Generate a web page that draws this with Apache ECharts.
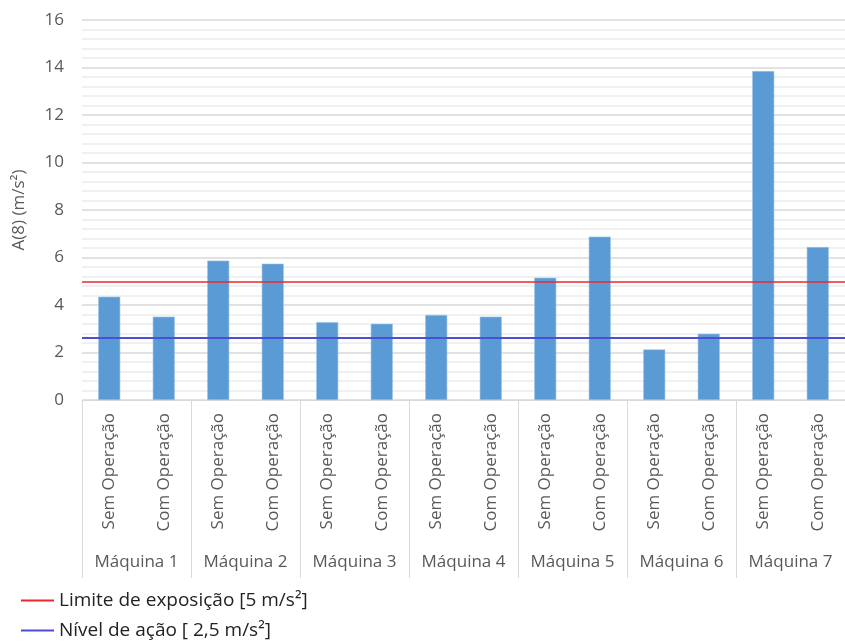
<!DOCTYPE html>
<html>
<head>
<meta charset="utf-8">
<script src="https://cdn.jsdelivr.net/npm/echarts@6/dist/echarts.min.js"></script>
<style>
  html, body { margin: 0; padding: 0; background: #fff; }
  #chart { width: 845px; height: 643px; }
</style>
</head>
<body>
<div id="chart"></div>
<script>
; (function () {
  const machines = ['Máquina 1', 'Máquina 2', 'Máquina 3', 'Máquina 4', 'Máquina 5', 'Máquina 6', 'Máquina 7']
  const modes = ['Sem Operação', 'Com Operação']
  // A(8) per machine, [Sem, Com]
  const semValues = [4.35, 5.87, 3.28, 3.58, 5.15, 2.13, 13.85]
  const comValues = [3.51, 5.74, 3.21, 3.51, 6.88, 2.79, 6.44]
  const limitName = 'Limite de exposição [5 m/s²]'
  const actionName = 'Nível de ação [ 2,5 m/s²]'
  const limitValue = [5]
  const actionValue = [2.62]
  const yTicks = [0, 16, 2]

  const categories = []
  const values = []
  machines.forEach(function (m, i) {
    categories.push(modes[0]); values.push(semValues[i])
    categories.push(modes[1]); values.push(comValues[i])
  })

  const font = 'Open Sans, Noto Sans, sans-serif'
  const legendBase = {
    left: 21,
    itemWidth: 33,
    itemHeight: 2,
    icon: 'rect',
    padding: 0,
    textStyle: { color: '#222', fontSize: 19, fontFamily: font }
  }
  const myChart = echarts.init(document.getElementById('chart'))
  const option = {
    animation: false,
    grid: { left: 82, top: 20, width: 773, height: 380, containLabel: false },
    legend: [
      Object.assign({ top: 591, data: [limitName] }, legendBase),
      Object.assign({ top: 621, data: [actionName] }, legendBase)
    ],
    xAxis: [
      {
        type: 'category',
        data: categories,
        axisLine: { lineStyle: { color: '#d9d9d9' } },
        axisTick: { show: false },
        axisLabel: { rotate: 90, margin: 13, color: '#595959', fontSize: 17, fontFamily: font, interval: 0 }
      },
      {
        type: 'category',
        data: machines,
        position: 'bottom',
        axisLine: { show: false },
        axisTick: { show: true, length: 178, lineStyle: { color: '#d9d9d9' } },
        axisLabel: { margin: 154, color: '#595959', fontSize: 17, fontFamily: font, interval: 0 }
      }
    ],
    yAxis: {
      type: 'value',
      min: yTicks[0],
      max: yTicks[1],
      interval: yTicks[2],
      name: 'A(8) (m/s²)',
      nameLocation: 'middle',
      nameGap: 54,
      nameTextStyle: { color: '#595959', fontSize: 17, fontFamily: font },
      axisLabel: { color: '#595959', fontSize: 17, fontFamily: font, margin: 18 },
      axisLine: { show: false },
      axisTick: { show: false },
      splitLine: { lineStyle: { color: '#d9d9d9', width: 1.5 } },
      minorTick: { show: false, splitNumber: 5 },
      minorSplitLine: { show: true, lineStyle: { color: '#ececec', width: 1.5 } }
    },
    series: [
      {
        type: 'bar',
        xAxisIndex: 0,
        data: values,
        barWidth: 22,
        itemStyle: { color: '#5b9bd5', borderColor: '#9cc3e6', borderWidth: 0.6 },
        z: 2
      },
      {
        name: limitName,
        type: 'line',
        data: [],
        itemStyle: { color: '#e8282e' },
        lineStyle: { color: '#e8282e' },
        markLine: {
          symbol: 'none',
          silent: true,
          label: { show: false },
          lineStyle: { color: '#e8282e', width: 1.5, type: 'solid' },
          data: limitValue.map(function (v) { return { yAxis: v } })
        },
        z: 5
      },
      {
        name: actionName,
        type: 'line',
        data: [],
        itemStyle: { color: '#4a4fd4' },
        lineStyle: { color: '#4a4fd4' },
        markLine: {
          symbol: 'none',
          silent: true,
          label: { show: false },
          lineStyle: { color: '#4a4fd4', width: 2, type: 'solid' },
          data: actionValue.map(function (v) { return { yAxis: v } })
        },
        z: 5
      }
    ]
  }

  myChart.setOption(option)
  window.addEventListener('resize', function () {
    myChart.resize()
  })
})()
</script>
</body>
</html>
